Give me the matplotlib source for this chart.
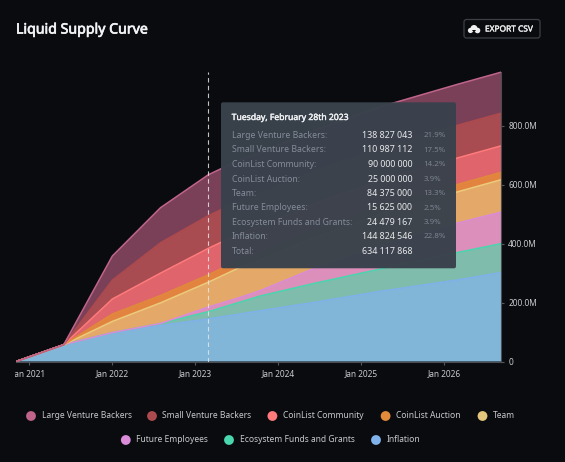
import numpy as np
import matplotlib
matplotlib.use("Agg")
import matplotlib.pyplot as plt
import matplotlib.dates as mdates
import matplotlib.patheffects as pe
from matplotlib.patches import Circle, FancyBboxPatch, Polygon
from matplotlib.ticker import FuncFormatter
from matplotlib.transforms import Bbox

plt.rcParams["font.family"] = ["Noto Sans", "DejaVu Sans"]

# ── Data (millions of tokens) ───────────────────────────────────────────────────
dates = np.array(["2020-11-03", "2021-06-01", "2022-01-01", "2022-08-01", "2023-02-28", "2023-07-15",
                  "2023-10-12", "2024-06-01", "2025-04-01", "2026-03-01", "2026-09-08"], dtype="datetime64[D]")

inflation = [0, 57, 97, 122, 144.8, 161, 172, 200, 239, 277, 302]
ecosystem = [0, 0, 1, 7, 24.5, 40, 50, 64, 76, 93, 98]
future_emp = [0, 0, 0, 0, 15.6, 16, 18, 50, 81, 100, 107]
team = [0, 0, 38, 70, 84.4, 102, 103, 104, 105, 106, 110]
auction = [0, 0, 25, 25, 25, 25, 25, 25, 25, 25, 25]
community = [0, 0, 51, 76, 90, 90, 90, 90, 90, 90, 90]
small_vc = [0, 0, 64, 103, 111, 111, 111, 111, 111, 111, 111]
large_vc = [0, 0, 82, 119, 138.8, 139, 139, 139, 139, 139, 139]

# bottom to top, same order as the stack
series = [inflation, ecosystem, future_emp, team, auction, community, small_vc, large_vc]
fill_colors = ["#82b6d9", "#80bcab", "#dd8fbb", "#e4a968", "#e2843f", "#e0646c", "#a84c52", "#7a4058"]
line_colors = ["#7fb2ea", "#4ad6ae", "#da8cd8", "#eccb7c", "#e08a3a", "#ff7b7b", "#ad4a4e", "#c0648c"]

legend_names = ["Large Venture Backers", "Small Venture Backers", "CoinList Community", "CoinList Auction", "Team",
                "Future Employees", "Ecosystem Funds and Grants", "Inflation"]
legend_colors = ["#c0648c", "#ad4a4e", "#ff7b7b", "#e08a3a", "#e3c67c", "#da8cd8", "#4ad6ae", "#7fb2ea"]

tip_title = "Tuesday, February 28th 2023"
tip_names = ["Large Venture Backers:", "Small Venture Backers:", "CoinList Community:", "CoinList Auction:", "Team:",
             "Future Employees:", "Ecosystem Funds and Grants:", "Inflation:", "Total:"]
tip_values = ["138 827 043", "110 987 112", "90 000 000", "25 000 000", "84 375 000",
              "15 625 000", "24 479 167", "144 824 546", "634 117 868"]
tip_pcts = ["21.9%", "17.5%", "14.2%", "3.9%", "13.3%", "2.5%", "3.9%", "22.8%", ""]

BG = "#0a0b0e"
W, H = 565, 462


def heavy(color, width=0.35):
    # Noto Sans only comes in regular here, thicken it with a thin stroke
    return [pe.withStroke(linewidth=width, foreground=color)]


fig = plt.figure(figsize=(W / 100, H / 100), dpi=100, facecolor=BG)

# ── Main chart ──────────────────────────────────────────────────────────────────
ax = fig.add_axes([16 / W, (H - 361.5) / H, 485 / W, 294.6 / H], facecolor=BG)
ax.stackplot(dates, series, colors=fill_colors, lw=0)
tops = np.cumsum(np.array(series), axis=0)
for top, c in zip(tops, line_colors):
    ax.plot(dates, top, color=c, lw=1.1, solid_joinstyle="round")

ax.vlines(np.datetime64("2023-02-28"), 0, tops[-1, -1], color="#e6e6e6", lw=0.8, ls=(0, (4, 3)), alpha=0.85)

ax.set_xlim(dates[0], dates[-1])
ax.set_ylim(0, 1000)
ax.xaxis.set_major_locator(mdates.YearLocator())
ax.xaxis.set_major_formatter(mdates.DateFormatter("Jan %Y"))
ax.yaxis.tick_right()
ax.set_yticks([0, 200, 400, 600, 800])
ax.yaxis.set_major_formatter(FuncFormatter(lambda v, p: "0" if v == 0 else f"{v:.1f}M"))
ax.tick_params(axis="both", colors="#55595f", length=2.2, width=0.8, labelsize=6.0, labelcolor="#c8cacc", pad=3)
for s in ["top", "left"]:
    ax.spines[s].set_visible(False)
for s in ["bottom", "right"]:
    ax.spines[s].set_color("#4a4e54")
    ax.spines[s].set_linewidth(0.8)
ax.spines["right"].set_bounds(0, tops[-1, -1])

# first label is cut by the chart's left edge in the original
for lbl in ax.get_xticklabels():
    lbl.set_clip_box(Bbox([[15, 0], [W, H]]))
    lbl.set_clip_on(True)

# ── Overlay in pixel coords for tooltip, header and legend ──────────────────────
ov = fig.add_axes([0, 0, 1, 1], facecolor="none")
ov.set_xlim(0, W)
ov.set_ylim(H, 0)
ov.axis("off")

ov.text(16, 30, "Liquid Supply Curve", color="#f2f3f4", fontsize=10.2, va="center",
        path_effects=heavy("#f2f3f4", 0.5))

ov.add_patch(FancyBboxPatch((464, 19.5), 76, 18.5, boxstyle="round,pad=0,rounding_size=2.5",
                            fc=BG, ec="#3c4046", lw=0.9))
ov.text(485, 29, "EXPORT CSV", color="#eceded", fontsize=6.0, va="center", path_effects=heavy("#eceded", 0.25))
# cloud icon
for cx, cy, r in [(470.5, 30.5, 2.6), (474, 28.5, 3.5), (477.5, 30.5, 2.8)]:
    ov.add_patch(Circle((cx, cy), r, fc="#f0f0f0", ec="none"))
ov.add_patch(Polygon([(472, 30), (476, 30), (474, 32.8)], fc=BG, ec="none"))

# tooltip
ov.add_patch(FancyBboxPatch((221, 102.3), 235, 166, boxstyle="round,pad=0,rounding_size=2",
                            fc="#3a424c", ec="none", alpha=0.98))
ov.text(231.7, 117.5, tip_title, color="#eef0f2", fontsize=6.2, va="center", path_effects=heavy("#eef0f2", 0.3))
row_y = [135.7, 150, 164.3, 179.3, 193.7, 208, 222.3, 236.7, 251.3]
for y, name, val, pct in zip(row_y, tip_names, tip_values, tip_pcts):
    ov.text(231.7, y, name, color="#838c99", fontsize=6.25, va="center")
    ov.text(412.3, y, val, color="#e8eaec", fontsize=6.4, va="center", ha="right")
    ov.text(423.3, y, pct, color="#7b8390", fontsize=5.7, va="center")

# legend rows
legend_x = [31, 152, 272.4, 385.6, 482.5, 125.8, 229, 376]
legend_y = [416] * 5 + [440] * 3
ov.scatter(legend_x, legend_y, s=50, c=legend_colors, linewidths=0)
for x, y, name in zip(legend_x, legend_y, legend_names):
    ov.text(x + 10.5, y, name, color="#c6c9cc", fontsize=6.1, va="center")

fig.savefig("out.png", dpi=100, facecolor=BG)
